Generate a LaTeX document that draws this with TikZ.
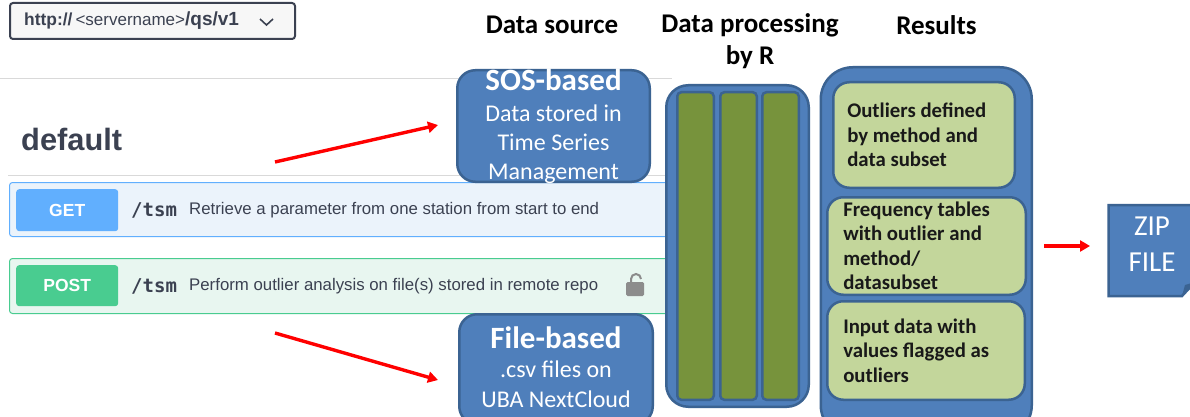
\documentclass[tikz,border=0pt]{standalone}
\usepackage{fontspec}
\usetikzlibrary{arrows.meta}
\setmainfont{Carlito}
\newfontfamily\uifont{Liberation Sans}
\newfontfamily\codefont{DejaVu Sans Mono}
\definecolor{boxblue}{HTML}{4F7FBB}
\definecolor{boxedge}{HTML}{3B6392}
\definecolor{bargreen}{HTML}{77933C}
\definecolor{palegreen}{HTML}{C3D69B}
\definecolor{uitext}{HTML}{3B4151}
\definecolor{getblue}{HTML}{61AFFE}
\definecolor{getrowfill}{HTML}{EBF3FB}
\definecolor{postgreen}{HTML}{49CC90}
\definecolor{postrowfill}{HTML}{E8F6F0}
\newcommand{\fs}[2]{\fontsize{#1}{#2}\selectfont}
\newcommand{\flatblock}[3]{\raisebox{#1}[0pt][0pt]{\parbox[c]{#2}{\centering #3}}}
\tikzset{
  x=1pt,y=-1pt,
  blue box/.style={draw=boxedge,line width=2.5pt,fill=boxblue,text=white,align=center,inner sep=0pt,anchor=north west},
  bar box/.style={draw=boxedge,line width=2.5pt,fill=bargreen,rounded corners=4pt,anchor=north west,inner sep=0pt,minimum width=36.5pt,minimum height=307.5pt},
  result box/.style={draw=boxedge,line width=2.5pt,fill=palegreen,anchor=north west,inner sep=0pt,align=left,font=\fs{20.8}{24.5}\bfseries,text=black!90},
  heading/.style={font=\fs{27}{32}\bfseries,text=black,align=center},
  opblock/.style={line width=1pt,rounded corners=3pt,anchor=north west,minimum width=680pt,minimum height=54pt,inner sep=0pt},
  opbutton/.style={rounded corners=3pt,anchor=north west,minimum width=102pt,minimum height=42pt,inner sep=0pt,text=white,font=\uifont\fs{17.5}{18}\bfseries},
  opdesc/.style={anchor=west,inner sep=0pt,text=uitext,font=\uifont\fs{16.8}{18}},
  oppath/.style={anchor=west,inner sep=0pt,text=uitext,font=\codefont\fs{19}{18}\bfseries},
  rule/.style={draw=black!15,line width=1pt},
  red arrow/.style={draw=red,line width=3.4pt,-{Triangle[length=10pt,width=11pt]}},
}
\begin{document}
\begin{tikzpicture}
\useasboundingbox (0,0) rectangle (1190,417);
\clip (0,0) rectangle (1190,417);
\fill[white] (0,0) rectangle (1190,417);
% swagger screen
\coordinate (r1a) at (0,79); \coordinate (r1b) at (672,79);
\coordinate (r2a) at (8,175); \coordinate (r2b) at (670,175);
\draw[rule] (r1a) -- (r1b);
\draw[rule] (r2a) -- (r2b);
\node[draw=uitext,line width=2pt,fill=black!3,rounded corners=3pt,anchor=north west,minimum width=285pt,minimum height=36pt,inner sep=0pt] (sel) at (9,2) {};
\node[anchor=west,inner sep=0pt,text=uitext,font=\uifont\fs{17.4}{18}] (seltext) at (24,21) {\textbf{http://}\hspace{3pt}{\fs{17}{18}<servername>}{\fs{19}{18}\textbf{/qs/v1}}};
\coordinate (ch1) at (260,19); \coordinate (ch2) at (266.5,25); \coordinate (ch3) at (273,19);
\draw[uitext,line width=1.6pt] (ch1) -- (ch2) -- (ch3);
\node[anchor=west,inner sep=0pt,text=uitext,font=\uifont\fs{30.8}{32}\bfseries] (def) at (21,139) {default};
\node[opblock,draw=getblue,fill=getrowfill] (getrow) at (9,182) {};
\node[opblock,draw=postgreen,fill=postrowfill,minimum height=55pt] (postrow) at (9,258) {};
\node[opbutton,fill=getblue] (get) at (16,189) {GET};
\node[opbutton,fill=postgreen,minimum height=41pt] (post) at (16,265) {POST};
\node[oppath] (p1) at (131,210) {/tsm};
\node[oppath] (p2) at (131,286) {/tsm};
\node[opdesc] (d1) at (189,210) {Retrieve a parameter from one station from start to end};
\node[opdesc] (d2) at (189,286) {Perform outlier analysis on file(s) stored in remote repo};
% lock
\fill[black!45,rounded corners=1.5pt] (626,282) rectangle (644,296);
\draw[black!45,line width=2pt] (631,283) -- (631,279) arc[start angle=180,end angle=0,radius=5pt] -- (641,279);
% blue panels
\node[blue box,rounded corners=18pt,minimum width=192.5pt,minimum height=111.5pt] (sos) at (456,69)
  {\flatblock{-3pt}{190pt}{\fs{24}{29}{\fs{31}{29}\bfseries SOS-based}\\[2pt]Data stored in\\Time Series\\Management}};
\node[blue box,rounded corners=18pt,minimum width=193.5pt,minimum height=110pt] (file) at (458,313)
  {\flatblock{0pt}{190pt}{\fs{24}{30}{\fs{31}{30}\bfseries File-based}\\[-1pt].csv files on\\UBA NextCloud}};
\node[blue box,rounded corners=22pt,minimum width=142.5pt,minimum height=321.5pt] (proc) at (665,84) {};
\node[bar box] (b1) at (676,91) {};
\node[bar box] (b2) at (719,91) {};
\node[bar box] (b3) at (761,91) {};
\node[blue box,rounded corners=32pt,minimum width=211pt,minimum height=370pt] (res) at (819.5,66) {};
\node[result box,rounded corners=16pt,minimum width=181.5pt,minimum height=105.5pt] (o1) at (832,81)
  {\hspace*{14pt}\parbox[c]{167.5pt}{Outliers defined\\by method and\\data subset}};
\node[result box,rounded corners=16pt,minimum width=198.5pt,minimum height=97.5pt] (o2) at (826,196)
  {\hspace*{16pt}\parbox[c]{182.5pt}{Frequency tables\\with outlier and\\method/\\datasubset}};
\node[result box,rounded corners=16pt,minimum width=197.5pt,minimum height=98.5pt] (o3) at (826,300)
  {\hspace*{16pt}\parbox[c]{181.5pt}{Input data with\\values flagged as\\outliers}};
% zip file with folded corner
\coordinate (z1) at (1108.5,205); \coordinate (z2) at (1195,205); \coordinate (z3) at (1195,282);
\coordinate (z4) at (1182,296); \coordinate (z5) at (1108.5,296);
\fill[boxblue,draw=boxedge,line width=2.5pt] (z1) -- (z2) -- (z3) -- (z4) -- (z5) -- cycle;
\fill[boxedge] (z4) -- (1185,285) -- (z3) -- cycle;
\node[anchor=center,text=white,align=center,inner sep=0pt,font=\fs{29}{36}] (zip) at (1152,244) {ZIP\\FILE};
% headings
\node[heading] (h1) at (552,25) {Data source};
\node[heading] (h2) at (750,41) {Data processing\\by R};
\node[heading] (h3) at (936.5,25) {Results};
% arrows
\coordinate (a1s) at (275,162); \coordinate (a1e) at (438,125);
\coordinate (a2s) at (275,333); \coordinate (a2e) at (438,380);
\coordinate (a3s) at (1044,246); \coordinate (a3e) at (1090,246);
\draw[red arrow] (a1s) -- (a1e);
\draw[red arrow] (a2s) -- (a2e);
\draw[red arrow] (a3s) -- (a3e);
\end{tikzpicture}
\end{document}
